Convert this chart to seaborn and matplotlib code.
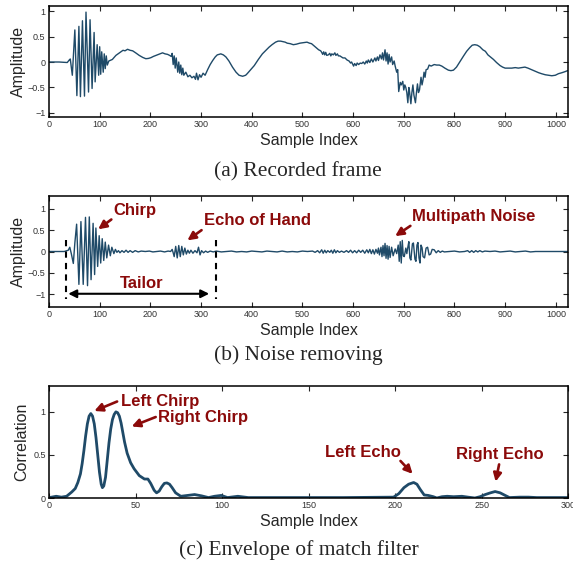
import matplotlib
matplotlib.use("Agg")
import matplotlib.pyplot as plt
import seaborn as sns
import pandas as pd

# ============================================
# DATA
# ============================================

# (a) recorded frame
rec_idx = [0, 20, 36, 40, 42, 46, 51, 55, 59, 62, 66, 70, 73, 78, 81, 85, 89, 91, 95, 98,
           100, 102, 104, 107, 109, 111, 113, 115, 118, 125, 132, 139, 146, 150, 155, 160,
           165, 171, 178, 185, 191, 196, 201, 206, 211, 218, 224, 229, 234, 238, 241, 243,
           245, 247, 249, 251, 254, 256, 258, 260, 262, 264, 266, 270, 274, 278, 282, 286,
           289, 291, 294, 297, 300, 304, 308, 313, 318, 323, 328, 332, 339, 344, 349, 355,
           362, 369, 375, 382, 388, 391, 398, 405, 413, 421, 428, 434, 440, 447, 452, 457,
           462, 466, 470, 476, 482, 488, 495, 502, 509, 514, 518, 525, 532, 536, 538, 540,
           542, 544, 546, 548, 551, 554, 556, 558, 561, 564, 566, 569, 571, 574, 577, 580,
           584, 588, 592, 595, 597, 599, 601, 603, 606, 608, 611, 614, 617, 620, 623, 626,
           628, 630, 633, 636, 639, 643, 645, 648, 650, 653, 656, 658, 660, 663, 665, 667,
           669, 671, 673, 676, 678, 681, 683, 686, 688, 690, 693, 695, 698, 700, 702, 704,
           706, 708, 710, 711, 714, 716, 718, 720, 723, 725, 727, 729, 731, 734, 736, 738,
           740, 742, 744, 747, 750, 754, 760, 765, 770, 775, 781, 788, 793, 798, 804, 811,
           818, 824, 830, 835, 840, 845, 850, 856, 861, 866, 872, 877, 883, 890, 895, 900,
           906, 913, 920, 926, 932, 939, 945, 952, 959, 966, 972, 979, 986, 992, 999, 1005,
           1012, 1018, 1023]
rec_amp = [0.0, 0.0, -0.01, 0.04, 0.06, -0.26, 0.63, -0.66, 0.70, -0.68, 0.81, -0.67, 0.98,
           -0.59, 0.83, -0.52, 0.58, -0.39, 0.34, -0.26, 0.30, -0.24, 0.20, -0.20, 0.16,
           -0.13, 0.12, -0.06, 0.02, 0.05, 0.13, 0.18, 0.23, 0.22, 0.25, 0.23, 0.22, 0.18,
           0.13, 0.09, 0.065, 0.07, 0.085, 0.11, 0.13, 0.16, 0.18, 0.16, 0.15, 0.13, 0.11,
           0.17, -0.05, 0.12, -0.12, 0.08, -0.20, 0.0, -0.22, -0.06, -0.25, -0.12, -0.26,
           -0.20, -0.29, -0.26, -0.31, -0.28, -0.34, -0.22, -0.35, -0.25, -0.30, -0.22,
           -0.26, -0.15, -0.05, 0.03, 0.10, 0.14, 0.16, 0.14, 0.10, 0.02, -0.10, -0.20,
           -0.26, -0.28, -0.26, -0.23, -0.15, -0.07, 0.05, 0.16, 0.23, 0.29, 0.34, 0.39,
           0.41, 0.41, 0.40, 0.39, 0.37, 0.36, 0.34, 0.35, 0.37, 0.38, 0.39, 0.37, 0.36,
           0.30, 0.24, 0.22, 0.19, 0.15, 0.20, 0.14, 0.19, 0.13, 0.14, 0.17, 0.12, 0.16,
           0.14, 0.18, 0.13, 0.16, 0.12, 0.12, 0.10, 0.08, 0.08, 0.04, 0.02, -0.02, 0.0,
           -0.04, -0.08, -0.03, -0.07, -0.02, -0.05, -0.02, -0.03, 0.0, -0.04, 0.02, -0.02,
           0.04, -0.01, 0.06, 0.0, 0.08, 0.02, 0.10, 0.03, 0.14, 0.06, 0.18, 0.04, 0.24,
           0.02, 0.18, -0.04, 0.15, 0.0, 0.10, -0.05, 0.02, -0.08, -0.20, -0.15, -0.58,
           -0.40, -0.45, -0.38, -0.55, -0.45, -0.50, -0.60, -0.80, -0.50, -0.55, -0.82,
           -0.60, -0.45, -0.65, -0.80, -0.60, -0.43, -0.60, -0.55, -0.30, -0.45, -0.35,
           -0.20, -0.30, -0.15, -0.14, -0.06, -0.08, -0.05, -0.06, -0.06, -0.08, -0.12,
           -0.16, -0.17, -0.16, -0.10, 0.01, 0.12, 0.21, 0.28, 0.33, 0.34, 0.33, 0.30,
           0.24, 0.21, 0.14, 0.09, 0.05, -0.01, -0.07, -0.10, -0.12, -0.12, -0.12, -0.11,
           -0.12, -0.11, -0.10, -0.12, -0.15, -0.18, -0.21, -0.23, -0.25, -0.26, -0.27,
           -0.26, -0.23, -0.21, -0.19, -0.17]

# (b) after noise removing
clean_idx = [0, 30, 35, 38, 41, 44, 48, 51, 54.5, 59, 63, 67.5, 72, 76, 79.5, 83, 87, 90,
             92.5, 96, 99, 102, 105, 108, 111, 114, 117.5, 121, 124, 128, 131, 134, 137,
             140, 144, 148, 152, 156, 160, 165, 170, 176, 182, 190, 198, 205, 212, 220,
             228, 235, 240, 243, 245, 247, 250, 253, 256, 259, 262, 265, 268, 271, 274,
             277, 280, 284, 288, 292, 295, 298, 301, 305, 309, 313, 318, 324, 330, 340,
             350, 360, 370, 380, 390, 400, 410, 420, 430, 440, 450, 460, 470, 480, 490,
             500, 510, 520, 525, 530, 534, 538, 541, 544, 547, 550, 554, 557, 560, 563,
             566, 569, 573, 577, 582, 587, 591, 595, 599, 603, 607, 611, 615, 619, 623,
             627, 630, 633, 636, 639, 642, 645, 648, 650, 652, 655, 657, 659, 661, 663,
             665, 667, 669, 671, 673, 676, 679, 683, 686, 689, 691, 693, 695, 697, 699,
             701, 704, 706, 708, 710, 712, 714, 717, 719, 722, 724, 726, 728, 730, 732,
             734, 736, 738, 741, 744, 747, 750, 753, 756, 760, 764, 768, 772, 776, 780,
             790, 800, 810, 820, 826, 830, 834, 838, 842, 846, 850, 855, 860, 870, 880,
             890, 900, 910, 920, 930, 940, 950, 960, 980, 1000, 1023]
clean_amp = [0.0, 0.0, 0.02, 0.03, 0.10, -0.05, -0.28, 0.20, 0.64, -0.77, 0.70, -0.77,
             0.80, -0.80, 0.81, -0.66, 0.66, -0.54, 0.55, -0.35, 0.37, -0.27, 0.30, -0.21,
             0.22, -0.15, 0.15, -0.10, 0.10, -0.05, 0.05, -0.02, 0.02, -0.03, 0.02, -0.02,
             0.03, -0.02, 0.02, -0.02, 0.02, -0.01, 0.01, 0.0, 0.01, -0.01, 0.0, 0.01,
             -0.01, 0.01, 0.0, 0.05, -0.03, -0.12, 0.12, -0.15, 0.14, -0.12, 0.12, -0.08,
             0.08, -0.06, 0.03, -0.04, 0.03, -0.04, 0.02, -0.03, 0.10, -0.08, 0.02, -0.03,
             0.01, -0.02, 0.01, -0.01, 0.01, -0.01, 0.0, 0.01, -0.01, 0.0, -0.01, 0.01,
             0.0, -0.01, 0.01, 0.0, -0.01, 0.01, -0.01, 0.0, -0.01, 0.01, 0.0, 0.01, -0.02,
             0.02, -0.03, 0.04, -0.04, 0.03, -0.03, 0.02, -0.02, 0.03, -0.04, 0.04, -0.03,
             0.02, -0.02, 0.01, -0.02, 0.02, -0.02, 0.03, -0.03, 0.02, -0.03, 0.03, -0.02,
             0.03, -0.04, 0.04, -0.03, 0.05, -0.05, 0.04, -0.06, 0.05, -0.04, 0.08, -0.08,
             0.10, -0.12, 0.14, -0.10, 0.19, -0.16, 0.14, -0.18, 0.12, -0.14, 0.10, -0.10,
             0.06, -0.05, 0.15, -0.23, 0.23, -0.27, 0.26, -0.10, -0.12, 0.08, -0.05, 0.10,
             0.23, -0.15, -0.20, 0.18, 0.20, -0.18, -0.23, 0.15, 0.21, -0.15, -0.27, 0.15,
             0.09, -0.12, -0.15, 0.08, 0.10, -0.08, -0.06, 0.05, 0.04, -0.03, 0.02, -0.02,
             0.01, -0.01, 0.0, 0.01, -0.01, 0.0, 0.02, -0.02, 0.02, -0.02, 0.02, -0.01,
             0.02, -0.01, 0.01, 0.0, 0.01, -0.01, 0.0, 0.01, -0.01, 0.0, 0.01, -0.01, 0.0,
             0.0, 0.0, 0.0]

# (c) envelope of match filter
env_idx = [0, 4, 7, 10, 13, 15, 16.5, 18, 19, 20, 21, 22, 23, 24, 25, 26, 27, 28, 29, 30,
           30.7, 31.5, 32.5, 33.5, 34.5, 35.5, 36.5, 37.5, 38.5, 39.5, 40.5, 41.5, 42.5,
           43.5, 45, 47, 49, 52, 55, 57, 58.6, 60.6, 62, 63.5, 65, 66.5, 68, 69.5, 71, 73,
           76, 80, 84, 88, 92, 95.5, 99.4, 103, 109, 115, 123, 140, 170, 199, 202, 205,
           207.7, 210.6, 212.5, 214.4, 216.7, 219, 222, 224, 227, 230, 233.7, 238.5, 242,
           246, 249, 252, 255, 257.7, 260.6, 263.5, 266, 272, 277, 281.7, 300]
env_corr = [0.005, 0.02, 0.01, 0.02, 0.07, 0.11, 0.18, 0.28, 0.40, 0.55, 0.72, 0.86, 0.95,
            0.98, 0.95, 0.86, 0.70, 0.50, 0.30, 0.16, 0.12, 0.14, 0.24, 0.44, 0.64, 0.80,
            0.91, 0.97, 1.0, 0.99, 0.95, 0.87, 0.76, 0.65, 0.52, 0.41, 0.34, 0.26, 0.22,
            0.22, 0.17, 0.09, 0.06, 0.08, 0.13, 0.17, 0.175, 0.16, 0.12, 0.06, 0.02, 0.03,
            0.04, 0.025, 0.005, 0.02, 0.03, 0.005, 0.02, 0.005, 0.005, 0.005, 0.005, 0.01,
            0.05, 0.12, 0.16, 0.18, 0.16, 0.10, 0.035, 0.03, 0.015, 0.0, 0.015, 0.02, 0.015,
            0.02, 0.01, 0.0, 0.015, 0.04, 0.06, 0.075, 0.06, 0.03, 0.005, 0.01, 0.01, 0.005,
            0.005]

# ============================================
# STYLE
# ============================================

sns.set_style("ticks")
plt.rcParams["font.family"] = ["Liberation Sans", "DejaVu Sans"]

LINE = "#1f4a68"
RED = "#8b0a0a"
TICKCOL = "#333333"

fig = plt.figure(figsize=(5.73, 5.66), dpi=100)


def style_axes(ax, xlim, ylim, xticks, yticks, ylabels):
    ax.set_xlim(*xlim)
    ax.set_ylim(*ylim)
    ax.set_xticks(xticks)
    ax.set_yticks(yticks)
    ax.set_yticklabels(ylabels)
    ax.tick_params(direction="in", top=True, right=True, length=3.5, width=0.8,
                   labelsize=6.5, labelcolor=TICKCOL, pad=2.5)
    for s in ax.spines.values():
        s.set_linewidth(1.1)
        s.set_color("black")
    ax.set_xlabel("Sample Index", fontsize=11.5, labelpad=2.5)


def red_note(ax, text, xy, xytext, tip):
    # xy = left edge / vertical centre of the label
    ax.annotate("", xy=tip, xytext=xytext,
                arrowprops=dict(arrowstyle="-|>", color=RED, lw=1.9, mutation_scale=12,
                                shrinkA=0, shrinkB=0))
    ax.text(xy[0], xy[1], text, color=RED, fontsize=12, fontweight="bold",
            ha="left", va="center")


amp_ticks = [-1, -0.5, 0, 0.5, 1]
amp_labels = ["\u22121", "\u22120.5", "0", "0.5", "1"]

# ============================================
# (a) RECORDED FRAME
# ============================================

ax1 = fig.add_axes([49 / 573, 1 - 117 / 566, 519 / 573, 111 / 566])
df_a = pd.DataFrame({"idx": rec_idx, "amp": rec_amp})
sns.lineplot(data=df_a, x="idx", y="amp", ax=ax1, color=LINE, linewidth=1.0,
             estimator=None, sort=False)
style_axes(ax1, (0, 1024), (-1.08, 1.1), range(0, 1001, 100), amp_ticks, amp_labels)
ax1.set_ylabel("Amplitude", fontsize=11.5)
ax1.yaxis.set_label_coords(-0.045, 0.5)

# ============================================
# (b) NOISE REMOVING
# ============================================

ax2 = fig.add_axes([49 / 573, 1 - 307 / 566, 519 / 573, 111 / 566])
df_b = pd.DataFrame({"idx": clean_idx, "amp": clean_amp})
sns.lineplot(data=df_b, x="idx", y="amp", ax=ax2, color=LINE, linewidth=1.0,
             estimator=None, sort=False)
style_axes(ax2, (0, 1024), (-1.3, 1.3), range(0, 1001, 100), amp_ticks, amp_labels)
ax2.set_ylabel("Amplitude", fontsize=11.5)
ax2.yaxis.set_label_coords(-0.045, 0.5)

# tailor window
for xv in [33, 329]:
    ax2.plot([xv, xv], [0.27, -1.12], color="black", lw=1.5, ls=(0, (3, 2.5)))
ax2.annotate("", xy=(38, -0.99), xytext=(316, -0.99),
             arrowprops=dict(arrowstyle="<|-|>", color="black", lw=1.5,
                             mutation_scale=12, shrinkA=0, shrinkB=0))
ax2.text(140, -0.75, "Tailor", color=RED, fontsize=12, fontweight="bold",
         ha="left", va="center")

red_note(ax2, "Chirp", (128, 0.95), (123, 0.75), (97, 0.52))
red_note(ax2, "Echo of Hand", (305, 0.73), (301, 0.5), (273, 0.26))
red_note(ax2, "Multipath Noise", (716, 0.83), (713, 0.6), (683, 0.36))

# ============================================
# (c) ENVELOPE OF MATCH FILTER
# ============================================

ax3 = fig.add_axes([49.3 / 573, 1 - 498 / 566, 519 / 573, 112 / 566])
df_c = pd.DataFrame({"idx": env_idx, "corr": env_corr})
sns.lineplot(data=df_c, x="idx", y="corr", ax=ax3, color=LINE, linewidth=2.0,
             estimator=None, sort=False)
style_axes(ax3, (0, 300), (0, 1.3), range(0, 301, 50), [0, 0.5, 1], ["0", "0.5", "1"])
ax3.set_ylabel("Correlation", fontsize=11.5)
ax3.yaxis.set_label_coords(-0.038, 0.5)

red_note(ax3, "Left Chirp", (41.5, 1.12), (39.2, 1.12), (26, 1.01))
red_note(ax3, "Right Chirp", (63, 0.94), (61.5, 0.94), (47.6, 0.83))
red_note(ax3, "Left Echo", (159.6, 0.53), (203, 0.43), (210, 0.28))
red_note(ax3, "Right Echo", (235.3, 0.5), (260, 0.39), (258, 0.19))

# ============================================
# CAPTIONS
# ============================================

cap = dict(fontsize=15.5, family=["Liberation Serif", "DejaVu Serif"], ha="center", va="center")
fig.text(298 / 573, 1 - 172 / 566, "(a) Recorded frame", **cap)
fig.text(298 / 573, 1 - 355 / 566, "(b) Noise removing", **cap)
fig.text(299 / 573, 1 - 550 / 566, "(c) Envelope of match filter", **cap)

fig.savefig("out.png", dpi=100)
